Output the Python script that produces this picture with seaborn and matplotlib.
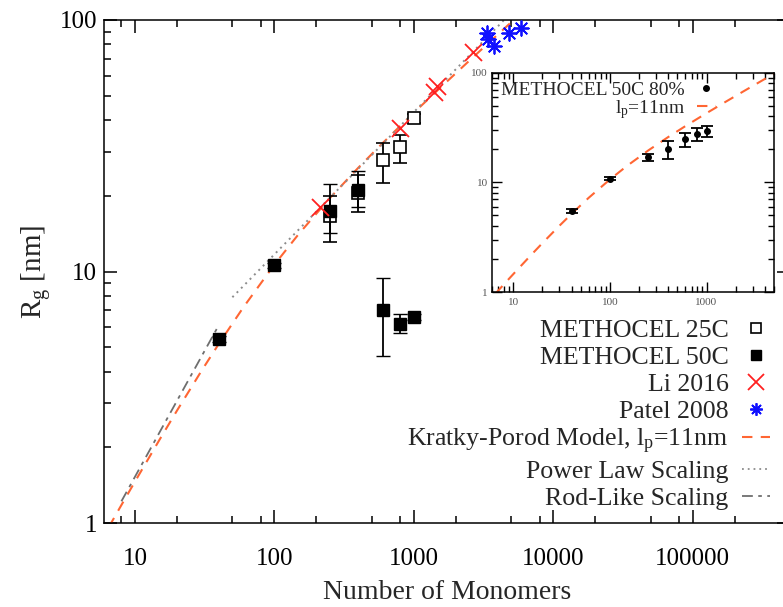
import numpy as np
import matplotlib
matplotlib.use("Agg")
import matplotlib.pyplot as plt
import seaborn as sns
from matplotlib.lines import Line2D
from matplotlib.ticker import FixedLocator, FixedFormatter, NullFormatter

# ---------------- data ----------------
m25_n = [250, 400, 600, 800, 1000]
m25_rg = [16.6, 20.5, 27.8, 31.3, 40.7]
m25_lo = [13.1, 17.3, 22.5, 26.9, 38.9]
m25_hi = [20.0, 24.2, 32.5, 34.9, 42.1]

m50_n = [40, 100, 250, 400, 600, 800, 1000]
m50_rg = [5.4, 10.6, 17.4, 21.0, 7.0, 6.2, 6.6]
m50_lo = [5.25, 10.35, 14.2, 18.0, 4.6, 5.7, 6.4]
m50_hi = [5.55, 10.85, 22.2, 25.2, 9.4, 6.8, 6.8]

li_n = [212, 795, 1400, 1480, 2650]
li_rg = [18.0, 37.3, 51.9, 54.7, 74.4]

patel_n = [3350, 3420, 3750, 4800, 5900]
patel_rg = [89.0, 84.0, 79.0, 89.0, 93.0]

kp_n = [6.5, 8, 10, 15, 20, 30, 40, 60, 100, 150, 250, 400, 600, 1000,
        1600, 2500, 4000, 5000, 6000]
kp_rg = [0.964, 1.179, 1.460, 2.142, 2.795, 4.024, 5.160, 7.209, 10.64,
         14.12, 19.58, 25.85, 32.45, 42.75, 54.69, 68.84, 87.49, 97.96, 107.4]

pow_n = [50, 200, 1000, 4500]
pow_rg = [7.9, 17.3, 43.0, 100.7]

rod_n = [8, 39]
rod_rg = [1.22, 5.97]

ins_n = [40, 100, 250, 400, 600, 800, 1000]
ins_rg = [5.45, 10.8, 16.9, 20.1, 24.6, 27.6, 29.4]
ins_err = [0.25, 0.4, 1.1, 3.7, 3.4, 3.8, 3.3]

x_major = [10, 100, 1000, 10000, 100000]
x_major_lbl = ["10", "100", "1000", "10000", "100000"]
y_major = [1, 10, 100]
y_major_lbl = ["1", "10", "100"]

ORANGE = "#ff6633"
GRAY_DOT = "#8c8c8c"
GRAY_ROD = "#6e6e6e"

# ---------------- style ----------------
sns.set_theme(style="ticks")
plt.rcParams['font.family'] = ['Liberation Serif', 'DejaVu Serif']
plt.rcParams['mathtext.fontset'] = 'custom'
plt.rcParams['mathtext.rm'] = 'Liberation Serif'
plt.rcParams['mathtext.it'] = 'Liberation Serif:italic'
plt.rcParams['mathtext.bf'] = 'Liberation Serif:bold'
plt.rcParams['axes.linewidth'] = 1.1
plt.rcParams['axes.edgecolor'] = 'black'

W, H = 783, 607
fig = plt.figure(figsize=(W / 100, H / 100), dpi=100)
ax = fig.add_axes([104 / W, 1 - 523 / H, 686 / W, 503 / H])
ax.set_xscale('log')
ax.set_yscale('log')
ax.set_xlim(6, 5e5)
ax.set_ylim(1, 100)

# model / scaling curves
sns.lineplot(x=kp_n, y=kp_rg, ax=ax, color=ORANGE, lw=1.5, sort=False,
             estimator=None, linestyle=(0, (5, 4)), zorder=2)
sns.lineplot(x=pow_n, y=pow_rg, ax=ax, color=GRAY_DOT, lw=1.4, sort=False,
             estimator=None, linestyle=(0, (1, 2.2)), zorder=2)
sns.lineplot(x=rod_n, y=rod_rg, ax=ax, color=GRAY_ROD, lw=1.3, sort=False,
             estimator=None, linestyle=(0, (6, 3, 2, 3)), zorder=2)

# data with error bars
m25_rg_a = np.array(m25_rg)
ax.errorbar(m25_n, m25_rg, yerr=[m25_rg_a - np.array(m25_lo), np.array(m25_hi) - m25_rg_a],
            fmt='s', ms=8, mfc='white', mec='black', mew=1.2, ecolor='black',
            elinewidth=1.3, capsize=5, capthick=1.3, zorder=4)
m50_rg_a = np.array(m50_rg)
ax.errorbar(m50_n, m50_rg, yerr=[m50_rg_a - np.array(m50_lo), np.array(m50_hi) - m50_rg_a],
            fmt='s', ms=9, mfc='black', mec='black', mew=1.0, ecolor='black',
            elinewidth=1.3, capsize=5, capthick=1.3, zorder=5)
sns.scatterplot(x=li_n, y=li_rg, ax=ax, marker='x', color='#ff2020', s=150,
                linewidth=1.3, zorder=6, legend=False)
sns.scatterplot(x=patel_n, y=patel_rg, ax=ax, marker=(8, 2, 0), color='#1010ff',
                s=110, linewidth=1.3, zorder=6, legend=False)

# ticks
ax.xaxis.set_major_locator(FixedLocator(x_major))
ax.xaxis.set_major_formatter(FixedFormatter(x_major_lbl))
ax.xaxis.set_minor_locator(FixedLocator([d * m for d in [1, 10, 100, 1000, 1e4, 1e5] for m in (2, 5, 8)]))
ax.xaxis.set_minor_formatter(NullFormatter())
ax.yaxis.set_major_locator(FixedLocator(y_major))
ax.yaxis.set_major_formatter(FixedFormatter(y_major_lbl))
ax.yaxis.set_minor_locator(FixedLocator([d * m for d in (1, 10) for m in range(2, 10)]))
ax.yaxis.set_minor_formatter(NullFormatter())
ax.tick_params(which='both', direction='in', top=True, right=True, width=1.1,
               colors='black', labelsize=18)
ax.tick_params(which='major', length=9.5)
ax.tick_params(which='minor', length=5)
ax.tick_params(axis='x', which='major', pad=18)
ax.tick_params(axis='y', which='major', pad=5)
ax.set_xlabel("Number of Monomers", fontsize=20, labelpad=7)
ax.set_ylabel(r"R$_{\mathrm{g}}$ [nm]", fontsize=21, labelpad=5)

# legend (text right-aligned, handle on the right)
handles = [
    Line2D([], [], marker='s', ls='none', ms=7, mfc='white', mec='black', mew=1.2),
    Line2D([], [], marker='s', ls='none', ms=7, mfc='black', mec='black'),
    Line2D([], [], marker='x', ls='none', ms=11, color='#ff2020', mew=1.3),
    Line2D([], [], marker=(8, 2, 0), ls='none', ms=9, color='#1010ff', mew=1.3),
    Line2D([], [], color=ORANGE, lw=1.5, ls=(0, (5, 4))),
    Line2D([], [], color=GRAY_DOT, lw=1.3, ls=(0, (1, 2.2))),
    Line2D([], [], color=GRAY_ROD, lw=1.3, ls=(0, (6, 3, 2, 3))),
]
labels = ["METHOCEL 25C", "METHOCEL 50C", "Li 2016", "Patel 2008",
          r"Kratky-Porod Model, l$_{\mathrm{p}}$=11nm", "Power Law Scaling",
          "Rod-Like Scaling"]
fig.legend(handles, labels, loc='upper right', bbox_to_anchor=(770 / W, 1 - 319 / H),
           markerfirst=False, frameon=False, fontsize=18.6, labelspacing=0.15,
           handlelength=1.1, handletextpad=0.5, borderpad=0, borderaxespad=0)

# ---------------- inset ----------------
axin = fig.add_axes([492 / W, 1 - 292 / H, 282 / W, 219.3 / H])
axin.set_xscale('log')
axin.set_yscale('log')
axin.set_xlim(6, 5000)
axin.set_ylim(1, 100)
sns.lineplot(x=kp_n, y=kp_rg, ax=axin, color=ORANGE, lw=1.5, sort=False,
             estimator=None, linestyle=(0, (5, 4)), zorder=2)
axin.errorbar(ins_n, ins_rg, yerr=ins_err, fmt='o', ms=4, color='black',
              elinewidth=1.3, capsize=4, capthick=1.3, zorder=4)
axin.xaxis.set_major_locator(FixedLocator([10, 100, 1000]))
axin.xaxis.set_major_formatter(FixedFormatter(["10", "100", "1000"]))
axin.xaxis.set_minor_locator(FixedLocator([d * m for d in (1, 10, 100, 1000) for m in range(2, 10)]))
axin.xaxis.set_minor_formatter(NullFormatter())
axin.yaxis.set_major_locator(FixedLocator(y_major))
axin.yaxis.set_major_formatter(FixedFormatter(y_major_lbl))
axin.yaxis.set_minor_locator(FixedLocator([d * m for d in (1, 10) for m in range(2, 10)]))
axin.yaxis.set_minor_formatter(NullFormatter())
axin.tick_params(which='both', direction='in', top=True, right=True, width=1.0,
                 colors='black', labelsize=8, labelcolor='#555555')
axin.tick_params(which='major', length=7)
axin.tick_params(which='minor', length=4)
axin.tick_params(axis='x', which='major', pad=4)
axin.tick_params(axis='y', which='major', pad=3)
ih = [Line2D([], [], marker='o', ls='none', ms=4, color='black'),
      Line2D([], [], color=ORANGE, lw=1.5, ls=(0, (5, 4)))]
axin.legend(ih, ["METHOCEL 50C 80%", r"l$_{\mathrm{p}}$=11nm"], loc='upper right',
            bbox_to_anchor=(716 / W, 1 - 81 / H), bbox_transform=fig.transFigure,
            markerfirst=False, frameon=False, fontsize=14, labelspacing=-0.05,
            handlelength=1.0, handletextpad=0.6, borderpad=0, borderaxespad=0)

fig.savefig("out.png", dpi=100)
